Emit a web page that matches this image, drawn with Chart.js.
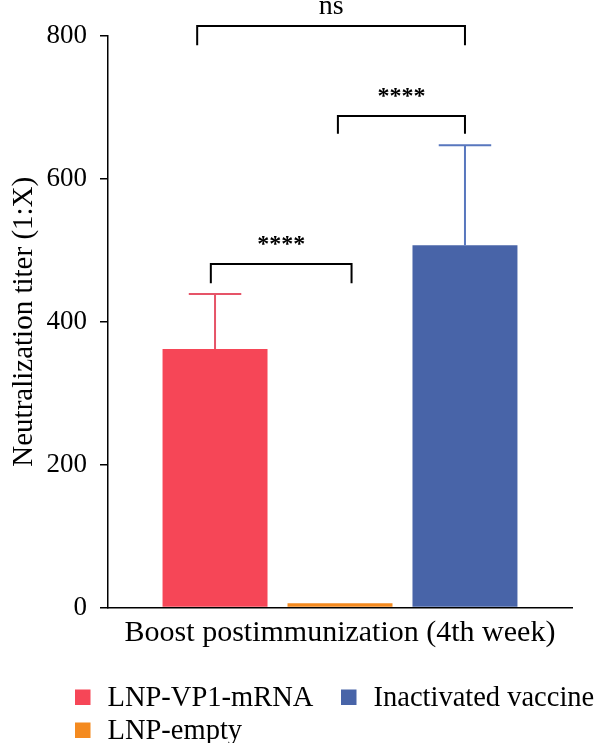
<!DOCTYPE html>
<html>
<head>
<meta charset="utf-8">
<script src="https://cdn.jsdelivr.net/npm/chart.js@4.4.1/dist/chart.umd.min.js"></script>
<style>
  html, body { margin: 0; background: #fff; }
  #wrap { width: 600px; height: 743px; }
</style>
</head>
<body>
<div id="wrap"><canvas id="titerChart"></canvas></div>
<script>
const categories = ["Boost postimmunization (4th week)"];
const groupNames = ["LNP-VP1-mRNA", "LNP-empty", "Inactivated vaccine"];
const meanTiter = [362, 6, 507];
const sdTiter = [77, 0, 140];
const yTicks = [0, 200, 400, 600, 800];

// significance brackets, levels in titer units
const bracketFrom = [0, 1, 0];
const bracketTo = [1, 2, 2];
const bracketLevel = [481, 688, 814];
const bracketLeg = [454, 663, 787];
const bracketText = ["****", "****", "ns"];
const bracketTextAt = [499, 706, 831];

const barColors = ["#F64657", "#F48A1F", "#4864A8"];
const errorColors = ["#E65468", null, "#5877BE"];
const serif = "'Liberation Serif', 'Times New Roman', serif";

// nudges of bracket ends, as a share of bar width
const bracketNudge = [[-0.04, 0.11], [-0.02, 0], [-0.17, 0]];

const annotate = {
    id: "annotate",
    afterDatasetsDraw(chart) {
        const ctx = chart.ctx;
        const y = chart.scales.y;
        const bars = chart.data.datasets.map((ds, i) => chart.getDatasetMeta(i).data[0]);

        // error bars
        bars.forEach((bar, i) => {
            if (!sdTiter[i]) return;
            const top = y.getPixelForValue(meanTiter[i] + sdTiter[i]);
            const half = bar.width * 0.25;
            ctx.save();
            ctx.strokeStyle = errorColors[i];
            ctx.lineWidth = 2;
            ctx.beginPath();
            ctx.moveTo(bar.x, bar.y);
            ctx.lineTo(bar.x, top);
            ctx.moveTo(bar.x - half, top);
            ctx.lineTo(bar.x + half, top);
            ctx.stroke();
            ctx.restore();
        });

        // brackets
        ctx.save();
        ctx.strokeStyle = "#000";
        ctx.fillStyle = "#000";
        ctx.lineWidth = 2;
        ctx.textAlign = "center";
        ctx.textBaseline = "alphabetic";
        bracketFrom.forEach((from, k) => {
            const a = bars[from], b = bars[bracketTo[k]];
            const x1 = a.x + bracketNudge[k][0] * a.width;
            const x2 = b.x + bracketNudge[k][1] * b.width;
            const yl = y.getPixelForValue(bracketLevel[k]);
            const yg = y.getPixelForValue(bracketLeg[k]);
            ctx.beginPath();
            ctx.moveTo(x1, yg);
            ctx.lineTo(x1, yl);
            ctx.lineTo(x2, yl);
            ctx.lineTo(x2, yg);
            ctx.stroke();
            ctx.font = bracketText[k] === "ns" ? "28px " + serif : "bold 24px " + serif;
            ctx.fillText(bracketText[k], (x1 + x2) / 2, y.getPixelForValue(bracketTextAt[k]));
        });
        ctx.restore();
    },
    afterDraw(chart) {
        // legend: red and blue on the first row, orange below red
        const spots = [[75, 706], [75, 739], [341, 706]];
        const ctx = chart.ctx;
        ctx.save();
        ctx.font = "28.5px " + serif;
        ctx.textBaseline = "alphabetic";
        ctx.textAlign = "left";
        chart.data.datasets.forEach((ds, i) => {
            const [sx, sy] = spots[i];
            ctx.fillStyle = ds.backgroundColor;
            ctx.fillRect(sx, sy - 16.5, 15.5, 15.5);
            ctx.fillStyle = "#000";
            ctx.fillText(ds.label, sx + 32.5, sy);
        });
        ctx.restore();
    }
};

new Chart(document.getElementById("titerChart"), {
    type: "bar",
    data: {
        labels: categories,
        datasets: groupNames.map((name, i) => ({
            label: name,
            data: [meanTiter[i]],
            backgroundColor: barColors[i],
            borderWidth: 0,
            categoryPercentage: 0.808,
            barPercentage: 0.84
        }))
    },
    options: {
        responsive: true,
        maintainAspectRatio: false,
        animation: false,
        layout: { padding: { top: 36, right: 28, bottom: 0, left: 0 } },
        plugins: {
            legend: { display: false },
            tooltip: { enabled: false }
        },
        scales: {
            x: {
                grid: { display: true, drawOnChartArea: false, drawTicks: false },
                border: { display: true, color: "#000", width: 1.5 },
                ticks: { color: "#000", padding: 8, font: { family: serif, size: 30 } },
                afterFit(scale) { scale.height = 135.5; }
            },
            y: {
                min: 0,
                max: 800,
                afterBuildTicks(scale) { scale.ticks = yTicks.map(v => ({ value: v })); },
                grid: { display: true, drawOnChartArea: false, drawTicks: true, tickLength: 8, color: "#000", lineWidth: 1.5 },
                border: { display: true, color: "#000", width: 1.5 },
                ticks: { color: "#000", padding: 13, font: { family: serif, size: 27 } },
                title: {
                    display: true,
                    text: "Neutralization titer (1:X)",
                    color: "#000",
                    padding: { top: 7, bottom: 0 },
                    font: { family: serif, size: 29 }
                },
                afterFit(scale) { scale.width = 108; }
            }
        }
    },
    plugins: [annotate]
});
</script>
</body>
</html>
